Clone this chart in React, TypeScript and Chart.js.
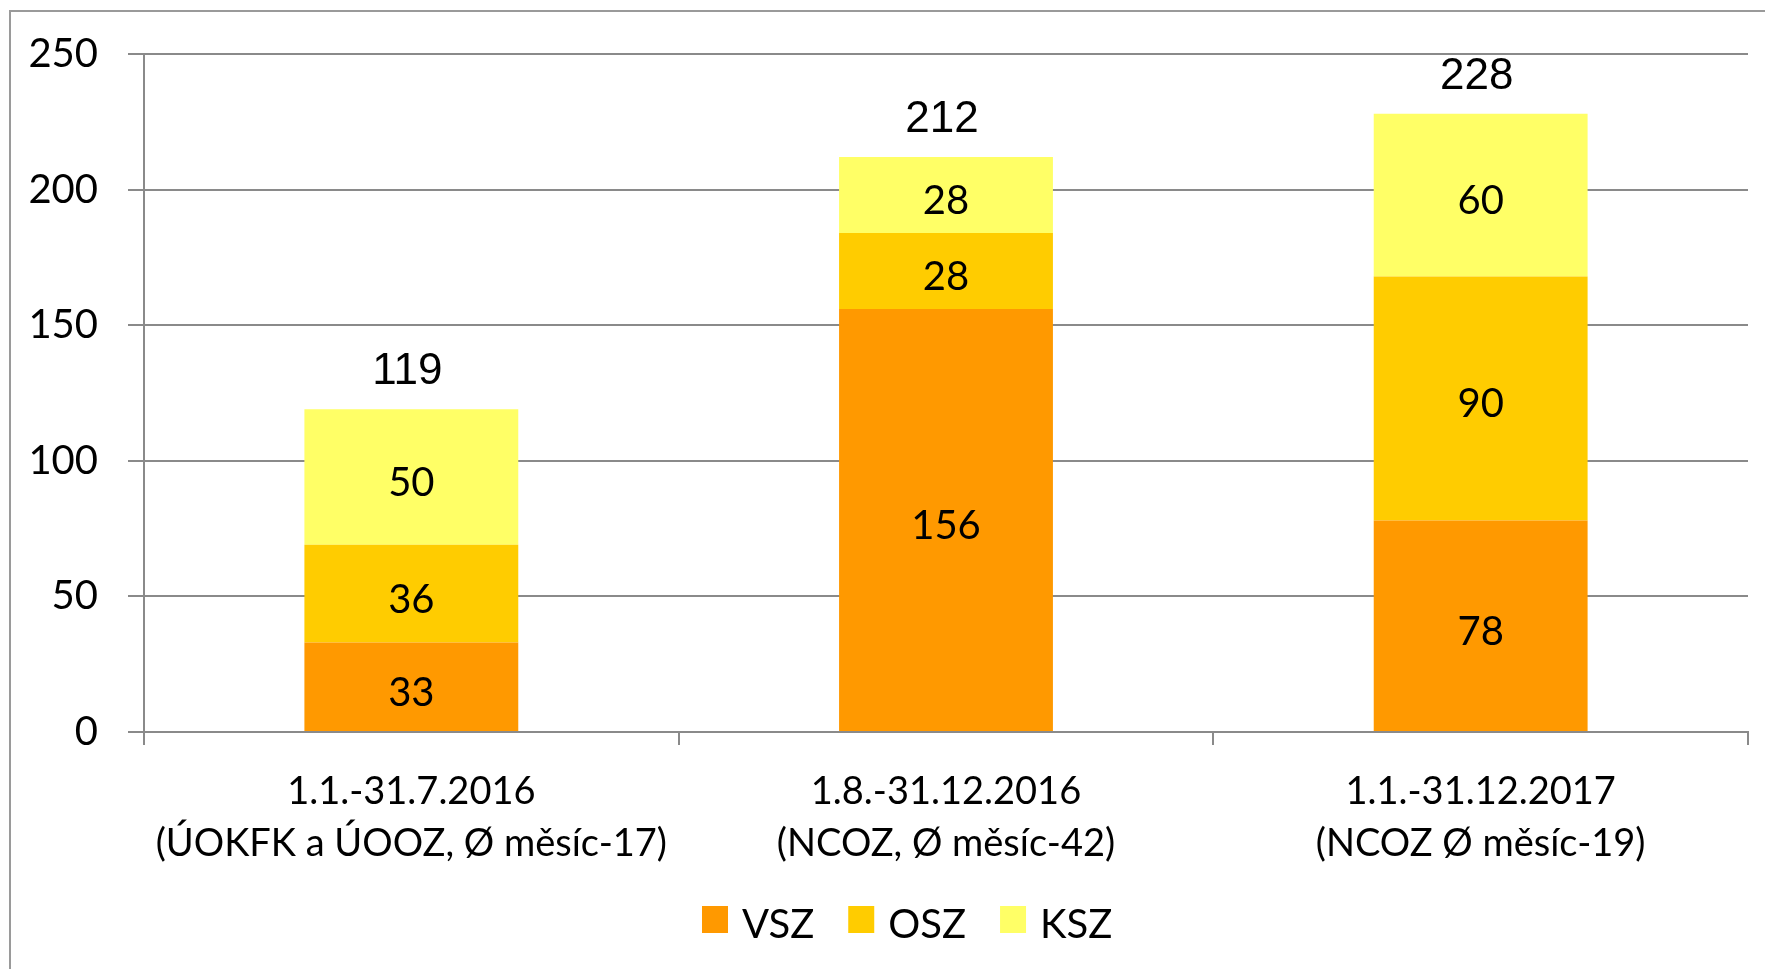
import React, { useEffect, useRef } from "react";
import { Chart, registerables } from "chart.js";

Chart.register(...registerables);

const categories: string[][] = [
  ["1.1.-31.7.2016", "(ÚOKFK a ÚOOZ, Ø měsíc-17)"],
  ["1.8.-31.12.2016", "(NCOZ, Ø měsíc-42)"],
  ["1.1.-31.12.2017", "(NCOZ Ø měsíc-19)"],
];
const seriesNames = ["VSZ", "OSZ", "KSZ"];
const vszValues = [33, 156, 78];
const oszValues = [36, 28, 90];
const kszValues = [50, 28, 60];
const seriesColors = ["#FF9900", "#FFCC00", "#FFFF66"];
const yTickValues = [0, 50, 100, 150, 200, 250];

const FONT = "Lato, 'Open Sans', sans-serif";
const TOTAL_FONT = "'Liberation Sans', Arial, sans-serif";
const GRID = "#8a8a8a";

const framePlugin = {
  id: "frame",
  beforeDraw(chart: any) {
    const ctx = chart.ctx;
    ctx.save();
    ctx.fillStyle = "#ffffff";
    ctx.fillRect(0, 0, chart.width, chart.height);
    ctx.strokeStyle = "#9a9a9a";
    ctx.lineWidth = 2;
    ctx.strokeRect(10, 11, chart.width + 20, chart.height + 20);
    ctx.restore();
  },
};

const labelsPlugin = {
  id: "valueLabels",
  afterDatasetsDraw(chart: any) {
    const ctx = chart.ctx;
    ctx.save();
    ctx.fillStyle = "#000";
    ctx.textAlign = "center";
    ctx.textBaseline = "middle";
    ctx.font = `40px ${FONT}`;
    chart.data.datasets.forEach((ds: any, di: number) => {
      const meta = chart.getDatasetMeta(di);
      meta.data.forEach((bar: any, i: number) => {
        const { x, y, base } = bar.getProps(["x", "y", "base"], true);
        ctx.fillText(String(ds.data[i]), x, (y + base) / 2 + 6);
      });
    });
    const yScale = chart.scales.y;
    const meta0 = chart.getDatasetMeta(0);
    ctx.font = `44px ${TOTAL_FONT}`;
    categories.forEach((_, i) => {
      const total = vszValues[i] + oszValues[i] + kszValues[i];
      const x = meta0.data[i].x;
      ctx.fillText(String(total), x - 4, yScale.getPixelForValue(total) - 37);
    });
    ctx.restore();
  },
};

const legendPlugin = {
  id: "customLegend",
  afterDraw(chart: any) {
    const ctx = chart.ctx;
    ctx.save();
    ctx.font = `40px ${FONT}`;
    ctx.textAlign = "left";
    ctx.textBaseline = "middle";
    let x = 702;
    const boxTop = 906;
    chart.data.datasets.forEach((ds: any) => {
      ctx.fillStyle = ds.backgroundColor;
      ctx.fillRect(x, boxTop, 26, 27);
      ctx.fillStyle = "#000";
      ctx.fillText(ds.label, x + 26 + 14, boxTop + 19);
      x += 26 + 14 + ctx.measureText(ds.label).width + 34;
    });
    ctx.restore();
  },
};

export default function App() {
  const canvasRef = useRef<HTMLCanvasElement | null>(null);

  useEffect(() => {
    if (!canvasRef.current) return;
    const seriesValues = [vszValues, oszValues, kszValues];
    const chart = new Chart(canvasRef.current, {
      type: "bar",
      data: {
        labels: categories,
        datasets: seriesNames.map((name, i) => ({
          label: name,
          data: seriesValues[i],
          backgroundColor: seriesColors[i],
          borderWidth: 0,
          barPercentage: 0.4,
          categoryPercentage: 1.0,
        })),
      },
      options: {
        responsive: false,
        animation: false,
        devicePixelRatio: 1,
        layout: { padding: { left: 0, top: 54, right: 17, bottom: 0 } },
        plugins: {
          legend: { display: false },
          tooltip: { enabled: false },
        },
        scales: {
          x: {
            stacked: true,
            offset: true,
            grid: {
              display: true,
              drawOnChartArea: false,
              drawTicks: true,
              tickLength: 13,
              color: GRID,
              lineWidth: 2,
              offset: true,
            },
            border: { display: true, color: GRID, width: 2 },
            ticks: {
              color: "#000",
              padding: 21,
              maxRotation: 0,
              minRotation: 0,
              autoSkip: false,
              font: { family: FONT, size: 38, lineHeight: 52 / 38 },
            },
            afterFit: (scale: any) => {
              scale.height = 969 - 732;
            },
          },
          y: {
            stacked: true,
            min: 0,
            max: 250,
            afterBuildTicks: (scale: any) => {
              scale.ticks = yTickValues.map((v) => ({ value: v }));
            },
            grid: {
              color: GRID,
              lineWidth: 2,
              tickLength: 16,
              drawTicks: true,
            },
            border: { display: true, color: GRID, width: 2 },
            ticks: {
              color: "#000",
              padding: 30,
              font: { family: FONT, size: 40 },
            },
            afterFit: (scale: any) => {
              scale.width = 144;
            },
          },
        },
      },
      plugins: [framePlugin, labelsPlugin, legendPlugin],
    });
    return () => chart.destroy();
  }, []);

  return (
    <div style={{ position: "absolute", left: 0, top: 0, width: 1765, height: 969 }}>
      <canvas ref={canvasRef} width={1765} height={969} style={{ width: 1765, height: 969, display: "block" }} />
    </div>
  );
}
